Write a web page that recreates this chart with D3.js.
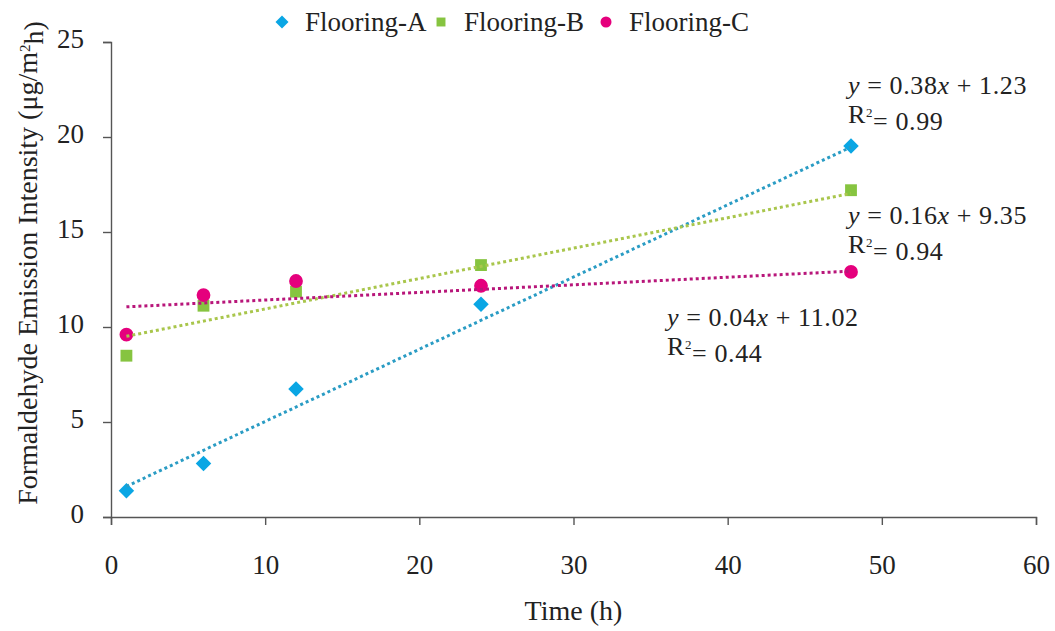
<!DOCTYPE html>
<html><head><meta charset="utf-8">
<script src="https://cdn.jsdelivr.net/npm/d3@7"></script>
<style>
body{margin:0;background:#fff;}
text{font-family:"Liberation Serif","Times New Roman",serif;fill:#222;}
</style></head>
<body><svg id="c" width="1055" height="631"></svg>
<script>
const times = [1, 6, 12, 24, 48];
const seriesNames = ["Flooring-A", "Flooring-B", "Flooring-C"];
const valuesA = [1.38, 2.81, 6.74, 11.2, 19.53];
const valuesB = [8.49, 11.12, 11.86, 13.26, 17.2];
const valuesC = [9.6, 11.68, 12.42, 12.17, 12.9];
const slopes = [0.38, 0.16, 0.04];
const intercepts = [1.23, 9.35, 11.02];
const r2 = ["0.99", "0.94", "0.44"];
const xTicks = [0, 10, 20, 30, 40, 50, 60];
const yTicks = [0, 5, 10, 15, 20, 25];

const markerColors = ["#0aa6e4", "#86c440", "#e5007d"];
const lineColors = ["#2a9cc4", "#a9c64c", "#b8167a"];
const shapes = [d3.symbolSquare, d3.symbolSquare, d3.symbolCircle];
const shapeRot = [45, 0, 0];
const shapeSizes = [120, 140, 150];
const allValues = [valuesA, valuesB, valuesC];

const svg = d3.select("#c");
const x = d3.scaleLinear().domain([0, 60]).range([111, 1036]);
const y = d3.scaleLinear().domain([0, 25]).range([517, 42]);

// axes
const xAxis = svg.append("g").attr("transform", "translate(0,517)")
  .call(d3.axisBottom(x).tickValues(xTicks).tickSize(8).tickPadding(30));
const yAxis = svg.append("g").attr("transform", "translate(111,0)")
  .call(d3.axisLeft(y).tickValues(yTicks).tickSize(8).tickPadding(19));
[xAxis, yAxis].forEach(g => {
  g.selectAll("path,line").attr("stroke", "#555").attr("stroke-width", 1.4);
  g.selectAll("text").style("font-family", '"Liberation Serif",serif').style("font-size", "27px").attr("fill", "#222");
});
yAxis.selectAll("text").attr("dy", "0.2em");

// axis titles
svg.append("text").attr("x", x(30)).attr("y", 620).attr("text-anchor", "middle")
  .style("font-size", "28px").text("Time (h)");
const yt = svg.append("text").attr("transform", "translate(37,263) rotate(-90)")
  .attr("text-anchor", "middle").style("font-size", "28px");
yt.append("tspan").text("Formaldehyde Emission Intensity (μg/m");
yt.append("tspan").attr("dy", "-0.45em").style("font-size", "15px").text("2");
yt.append("tspan").attr("dy", "0.45em").text("h)");

// markers
allValues.forEach((vals, i) => {
  svg.append("g").selectAll("path").data(vals).join("path")
    .attr("d", d3.symbol().type(shapes[i]).size(shapeSizes[i]))
    .attr("transform", (d, j) => `translate(${x(times[j])},${y(d)}) rotate(${shapeRot[i]})`)
    .attr("fill", markerColors[i]);
});

// trendlines
const tmin = d3.min(times), tmax = d3.max(times);
slopes.forEach((s, i) => {
  const pts = [tmin, tmax].map(t => [x(t), y(s * t + intercepts[i])]);
  svg.append("path").attr("d", d3.line()(pts)).attr("fill", "none")
    .attr("stroke", lineColors[i]).attr("stroke-width", 3).attr("stroke-dasharray", "3 3");
});

// equations
const eqPos = [[848, 94], [848, 224], [667, 326]];
slopes.forEach((s, i) => {
  const [ex, ey] = eqPos[i];
  const t = svg.append("text").attr("x", ex).attr("y", ey)
    .style("font-size", "26px").style("letter-spacing", "0.6px");
  t.append("tspan").style("font-style", "italic").text("y");
  t.append("tspan").text(` = ${s.toFixed(2)}`);
  t.append("tspan").style("font-style", "italic").text("x");
  t.append("tspan").text(` + ${intercepts[i].toFixed(2)}`);
  const r = svg.append("text").attr("x", ex).attr("y", ey + 29)
    .style("font-size", "26px").style("letter-spacing", "0.6px");
  r.append("tspan").text("R");
  r.append("tspan").attr("dy", "-0.5em").style("font-size", "13px").text("2");
  r.append("tspan").attr("dy", "0.5em").text("= " + r2[i]);
});

// legend
const legX = [282, 441, 606];
const legSizes = [85, 80, 95];
seriesNames.forEach((n, i) => {
  svg.append("path").attr("d", d3.symbol().type(shapes[i]).size(legSizes[i]))
    .attr("transform", `translate(${legX[i]},22) rotate(${shapeRot[i]})`).attr("fill", markerColors[i]);
  svg.append("text").attr("x", legX[i] + 23).attr("y", 31).style("font-size", "27px").text(n);
});
</script></body></html>
